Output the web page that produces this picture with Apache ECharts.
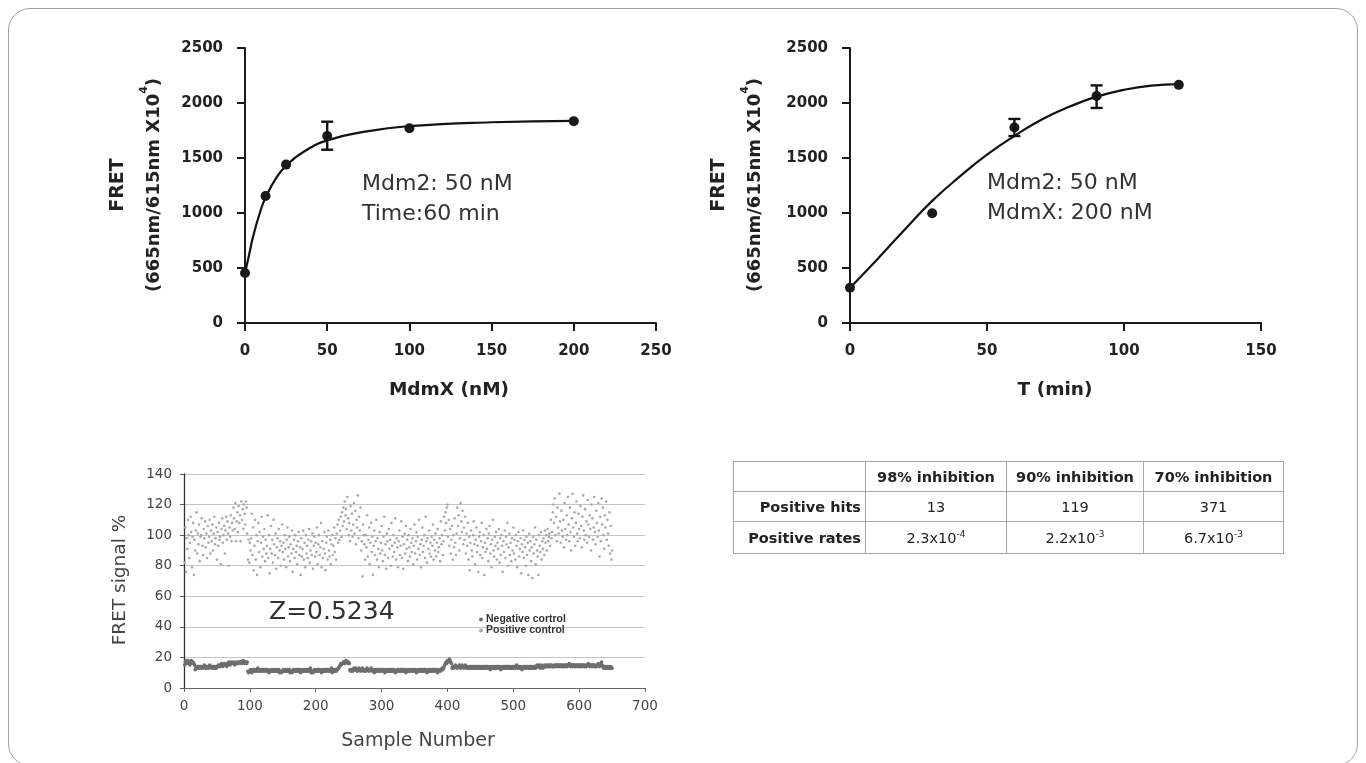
<!DOCTYPE html>
<html><head><meta charset="utf-8">
<script src="https://cdn.jsdelivr.net/npm/echarts@6/dist/echarts.min.js"></script>
<style>
html,body{margin:0;padding:0;background:#fff;}
#wrap{position:relative;width:1366px;height:763px;overflow:hidden;background:#fff;}
#chart{position:absolute;left:0;top:0;width:1366px;height:763px;}
#frame{position:absolute;left:8px;top:8px;width:1350px;height:758px;border:1.5px solid #a0a0a0;border-radius:22px;box-sizing:border-box;pointer-events:none;}
#tbl{position:absolute;left:733px;top:461px;border-collapse:collapse;font-family:'DejaVu Sans',Verdana,sans-serif;font-size:14.5px;color:#222;}
#tbl td{border:1px solid #a8a8a8;padding:0 4px;height:29px;white-space:nowrap;}
#tbl td.h{font-weight:bold;text-align:center;}
#tbl td.r{font-weight:bold;text-align:right;}
#tbl td.v{text-align:center;}
#tbl sup{font-size:9px;vertical-align:6px;}
</style></head>
<body>
<div id="wrap">
<div id="chart"></div>
<table id="tbl"></table>
<div id="frame"></div>
</div>
<script>
// ---- Panel A: MdmX titration ----
const mdmxConc = [0, 12.5, 25, 50, 100, 200];
const mdmxFret = [455, 1155, 1440, 1700, 1770, 1835];
const mdmxErrX = [50];
const mdmxErrLow = [1575];
const mdmxErrHigh = [1830];
const mdmxFitX = [0, 1, 2.5, 5, 9, 12.5, 19, 25, 35, 50, 75, 100, 150, 200];
const mdmxFitY = [455, 520, 620, 790, 1000, 1140, 1320, 1430, 1550, 1660, 1745, 1790, 1825, 1838];

// ---- Panel B: time course ----
const timeMin = [0, 30, 60, 90, 120];
const timeFret = [320, 997, 1777, 2064, 2165];
const timeErrX = [60, 90];
const timeErrLow = [1700, 1955];
const timeErrHigh = [1855, 2160];
const timeFitX = [0, 10, 20, 30, 40, 50, 60, 70, 80, 90, 100, 110, 120];
const timeFitY = [320, 580, 850, 1110, 1330, 1530, 1700, 1850, 1965, 2058, 2120, 2158, 2172];

// ---- Panel C: screening controls (sample 1..650) ----
const negativeControl = [
15,17,18,16,17,18,17,16,15,17,18,17,16,17,16,15,
12,13,14,13,14,14,13,14,14,13,14,14,13,14,15,14,
13,13,14,14,13,14,15,14,14,13,14,14,13,14,13,14,
13,14,14,15,14,15,14,15,16,15,14,15,16,15,16,15,
14,15,16,17,16,15,16,17,16,16,17,16,15,16,17,16,
16,16,17,17,16,17,17,16,17,18,17,16,17,17,16,17,
11,10,11,11,12,11,10,11,12,12,11,12,11,12,12,13,
11,11,12,11,12,12,11,12,12,11,12,12,11,12,12,11,
10,11,11,12,11,11,12,11,12,11,11,12,11,11,12,12,
10,11,11,10,11,11,12,11,11,12,11,11,12,12,11,12,
10,11,11,10,11,12,11,11,12,11,12,11,12,12,11,12,
10,11,11,12,11,11,12,11,12,12,11,12,11,12,12,13,
10,11,11,10,11,12,11,11,12,11,12,12,11,12,12,11,
10,11,12,11,11,12,11,12,11,12,12,11,12,11,12,13,
10,11,11,12,11,12,11,12,12,13,13,14,15,16,15,16,
16,17,17,16,17,18,17,17,16,17,16,12,11,12,12,11,
12,13,12,12,13,12,11,12,12,13,12,11,12,12,13,12,
11,12,12,11,12,13,12,12,11,12,12,13,12,11,12,12,
10,11,12,11,12,11,12,12,11,12,11,12,12,11,12,12,
10,11,11,12,11,11,12,11,12,11,11,12,11,12,12,11,
10,11,11,12,11,12,11,11,12,11,12,12,11,12,11,12,
10,11,11,12,11,11,12,11,12,12,11,12,11,12,12,11,
10,11,12,11,11,12,11,12,12,11,12,11,12,12,11,12,
10,11,11,12,11,12,11,11,12,12,11,12,12,11,12,12,
10,11,11,12,11,12,12,13,12,13,14,15,16,17,16,18,
17,18,19,18,17,16,13,14,14,13,14,15,14,14,13,14,
14,15,14,13,14,15,14,14,13,14,15,14,13,14,14,13,
13,14,14,13,14,13,14,14,13,14,13,14,14,13,14,14,
13,13,14,13,14,13,14,14,13,14,13,14,14,13,14,13,
12,13,14,13,14,13,13,14,13,14,13,14,14,13,14,14,
12,13,13,14,13,14,13,14,14,13,14,13,14,14,13,14,
13,13,14,13,14,14,13,14,15,14,13,14,14,13,14,13,
12,13,14,13,14,13,14,13,14,14,13,14,13,14,14,13,
13,14,13,14,14,13,14,15,14,14,15,14,13,14,15,14,
13,14,14,15,14,14,15,14,15,14,14,15,14,15,14,14,
14,15,14,15,15,14,15,15,14,15,14,15,15,14,15,14,
14,15,15,14,15,14,15,15,16,15,14,15,15,14,15,15,
14,15,14,15,15,14,15,14,15,15,14,15,14,15,15,14,
14,15,14,15,15,16,15,14,15,15,14,15,14,15,15,14,
14,15,14,15,16,15,14,15,16,17,15,14,13,14,14,13,
14,13,14,13,14,13,13,14,13,13
];
const positiveControl = [
82,105,76,98,91,110,100,85,95,112,102,79,99,108,74,97,90,103,115,88,101,94,107,83,99,
100,111,93,87,104,98,109,92,101,85,106,95,99,110,88,103,96,107,90,101,112,94,98,105,84,
102,93,108,97,99,81,104,111,95,100,106,88,103,112,97,109,101,80,105,99,113,96,108,103,118,
111,104,121,96,109,115,102,119,108,113,96,122,110,117,104,120,114,107,122,118,101,84,97,82,95,
90,98,114,87,105,77,93,110,84,100,74,96,108,89,102,79,95,112,86,99,91,104,83,97,88,
93,113,85,100,75,91,106,88,97,82,110,94,87,101,78,92,98,85,104,90,96,80,93,107,89,
95,84,100,91,79,97,105,86,92,99,83,94,88,103,76,91,97,85,100,89,93,81,96,102,87,
92,74,98,86,91,103,84,95,79,100,88,93,85,97,104,82,90,96,87,101,78,93,99,86,95,
89,105,81,94,100,87,92,108,79,96,85,91,102,88,77,95,99,84,103,90,86,97,81,94,100,
87,93,105,89,98,84,101,107,95,110,97,103,112,99,115,106,118,109,122,113,117,104,125,111,100,
108,96,119,103,114,99,107,121,101,116,94,110,105,126,98,112,103,118,90,96,73,107,100,94,84,
100,92,113,86,97,105,81,95,108,89,99,74,93,103,87,96,110,84,98,91,79,102,88,95,106,
90,83,99,112,87,94,78,101,96,85,104,91,97,80,108,93,86,100,89,95,111,84,98,92,79,
96,103,87,93,109,85,99,78,94,101,88,106,91,97,83,100,92,86,104,95,89,98,81,93,107,
88,96,102,84,99,91,110,87,94,79,97,105,89,93,100,85,112,96,82,98,91,103,88,95,86,
99,93,107,84,97,90,101,86,95,104,89,92,98,83,109,94,100,87,96,112,103,115,108,118,120,
99,110,93,104,88,97,106,84,100,92,111,95,87,101,118,106,113,90,98,121,109,102,116,94,105,
97,112,88,101,93,108,84,99,77,95,103,90,86,100,109,94,81,97,105,89,93,76,99,102,87,
96,108,85,92,100,74,95,89,104,91,98,83,101,106,88,94,79,97,110,90,86,99,93,102,84,
95,91,104,82,98,87,100,93,76,96,89,103,85,99,94,108,80,92,101,87,95,83,98,90,105,
88,97,84,100,93,79,96,102,86,91,98,75,94,89,103,85,97,92,80,99,87,95,74,101,90,
96,83,92,72,99,88,94,105,81,97,90,86,74,100,93,89,102,84,96,91,98,87,103,95,100,
90,104,96,99,101,93,110,98,102,115,120,108,124,100,112,96,118,105,101,127,109,95,116,103,99,
110,92,121,104,97,113,100,125,107,96,118,102,90,111,127,105,99,115,93,108,122,101,96,114,104,
98,119,106,92,112,126,103,97,117,100,109,95,123,107,99,113,104,90,120,111,97,105,125,102,94,
116,108,99,121,103,86,112,96,124,107,118,100,91,113,105,122,97,110,101,93,115,88,106,84,90
];

// ---- Table ----
const tableHeaders = ['98% inhibition', '90% inhibition', '70% inhibition'];
const tableRowLabels = ['Positive hits', 'Positive rates'];
const positiveHits = ['13', '119', '371'];
const rateMantissa = ['2.3', '2.2', '6.7'];
const rateExponent = ['-4', '-3', '-3'];

(function(){
  const t = document.getElementById('tbl');
  const widths = [132, 141, 137, 140];
  let html = '<tr><td style="width:' + (widths[0]-9) + 'px"></td>';
  tableHeaders.forEach((h,i)=>{ html += '<td class="h" style="width:' + (widths[i+1]-9) + 'px">' + h + '</td>'; });
  html += '</tr><tr><td class="r">' + tableRowLabels[0] + '</td>';
  positiveHits.forEach(v=>{ html += '<td class="v">' + v + '</td>'; });
  html += '</tr><tr><td class="r" style="height:31px">' + tableRowLabels[1] + '</td>';
  rateMantissa.forEach((m,i)=>{ html += '<td class="v">' + m + 'x10<sup>' + rateExponent[i] + '</sup></td>'; });
  html += '</tr>';
  t.innerHTML = html;
})();

const zip = (a,b) => a.map((v,i)=>[v,b[i]]);
const zip3 = (a,b,c) => a.map((v,i)=>[v,b[i],c[i]]);

function errRender(params, api){
  const x = api.value(0), lo = api.value(1), hi = api.value(2);
  const a = api.coord([x, lo]), b = api.coord([x, hi]);
  const w = 6;
  const st = {stroke:'#111', lineWidth:2.4};
  return {type:'group', children:[
    {type:'line', shape:{x1:a[0], y1:a[1], x2:b[0], y2:b[1]}, style:st},
    {type:'line', shape:{x1:a[0]-w, y1:a[1], x2:a[0]+w, y2:a[1]}, style:st},
    {type:'line', shape:{x1:b[0]-w, y1:b[1], x2:b[0]+w, y2:b[1]}, style:st}
  ]};
}

const FONT = "'DejaVu Sans', Verdana, sans-serif";
const plain = v => String(v);
const topAxisLine = {show:true, lineStyle:{color:'#1a1a1a', width:2}};
const topTick = {show:true, length:8, lineStyle:{color:'#1a1a1a', width:2}};
const topLabel = {color:'#222', fontFamily:FONT, fontWeight:'bold', fontSize:15, formatter:plain};
const botLabel = {color:'#444', fontFamily:FONT, fontSize:13.5, formatter:plain};

const chart = echarts.init(document.getElementById('chart'), null, {renderer:'canvas'});

const supName = {
  b:{fill:'#222', fontFamily:FONT, fontWeight:'bold', fontSize:18, lineHeight:24, verticalAlign:'bottom'},
  s:{fill:'#222', fontFamily:FONT, fontWeight:'bold', fontSize:11, lineHeight:24, verticalAlign:'top'}
};

const option = {
  animation:false,
  backgroundColor:'#fff',
  grid:[
    {left:245, top:48, width:411, height:275},
    {left:850, top:48, width:411, height:275},
    {left:184, top:474, width:461, height:214}
  ],
  xAxis:[
    {gridIndex:0, type:'value', min:0, max:250, interval:50, axisLine:topAxisLine, axisTick:topTick,
     axisLabel:Object.assign({margin:21}, topLabel), splitLine:{show:false}},
    {gridIndex:1, type:'value', min:0, max:150, interval:50, axisLine:topAxisLine, axisTick:topTick,
     axisLabel:Object.assign({margin:21}, topLabel), splitLine:{show:false}},
    {gridIndex:2, type:'value', min:0, max:700, interval:100,
     axisLine:{show:true, lineStyle:{color:'#666', width:1.2}},
     axisTick:{show:true, length:4, lineStyle:{color:'#666'}},
     axisLabel:Object.assign({margin:11}, botLabel),
     splitLine:{show:false}}
  ],
  yAxis:[
    {gridIndex:0, type:'value', min:0, max:2500, interval:500, axisLine:topAxisLine, axisTick:topTick,
     axisLabel:Object.assign({margin:22}, topLabel), splitLine:{show:false}},
    {gridIndex:1, type:'value', min:0, max:2500, interval:500, axisLine:topAxisLine, axisTick:topTick,
     axisLabel:Object.assign({margin:22}, topLabel), splitLine:{show:false}},
    {gridIndex:2, type:'value', min:0, max:140, interval:20,
     axisLine:{show:true, lineStyle:{color:'#333', width:1.3}},
     axisTick:{show:true, length:4, lineStyle:{color:'#555'}},
     axisLabel:Object.assign({margin:12}, botLabel),
     splitLine:{show:true, lineStyle:{color:'#c4c4c4', width:1}}}
  ],
  legend:{
    left:474, top:609, orient:'vertical', itemGap:0, itemWidth:4, itemHeight:4,
    textStyle:{color:'#333', fontFamily:'Liberation Sans, Arial, sans-serif', fontWeight:'bold', fontSize:10.5, lineHeight:9, padding:[0,0,0,-2]},
    data:[{name:'Negative cortrol', icon:'circle'}, {name:'Positive control', icon:'circle'}]
  },
  series:[
    {type:'line', xAxisIndex:0, yAxisIndex:0, data:zip(mdmxFitX, mdmxFitY), smooth:0.5, showSymbol:false, symbol:'none',
     lineStyle:{color:'#111', width:2.2}, z:2},
    {type:'scatter', xAxisIndex:0, yAxisIndex:0, data:zip(mdmxConc, mdmxFret), symbolSize:10,
     itemStyle:{color:'#1a1a1a', opacity:1}, z:3},
    {type:'custom', xAxisIndex:0, yAxisIndex:0, data:zip3(mdmxErrX, mdmxErrLow, mdmxErrHigh),
     renderItem:errRender, encode:{x:0, y:[1,2]}, z:4},
    {type:'line', xAxisIndex:1, yAxisIndex:1, data:zip(timeFitX, timeFitY), smooth:0.5, showSymbol:false, symbol:'none',
     lineStyle:{color:'#111', width:2.2}, z:2},
    {type:'scatter', xAxisIndex:1, yAxisIndex:1, data:zip(timeMin, timeFret), symbolSize:10,
     itemStyle:{color:'#1a1a1a', opacity:1}, z:3},
    {type:'custom', xAxisIndex:1, yAxisIndex:1, data:zip3(timeErrX, timeErrLow, timeErrHigh),
     renderItem:errRender, encode:{x:0, y:[1,2]}, z:4},
    {name:'Positive control', type:'scatter', xAxisIndex:2, yAxisIndex:2,
     data:positiveControl.map((v,i)=>[i+1, v]), symbolSize:2.6, itemStyle:{color:'#a9a9a9', opacity:1}, z:2},
    {name:'Negative cortrol', type:'scatter', xAxisIndex:2, yAxisIndex:2,
     data:negativeControl.map((v,i)=>[i+1, v]), symbolSize:3.6, itemStyle:{color:'#6e6e6e', opacity:1}, z:3}
  ],
  graphic:[
    {type:'text', x:118, y:185, rotation:Math.PI/2, style:{text:'FRET', fill:'#222', fontFamily:FONT, fontWeight:'bold', fontSize:19, align:'center', verticalAlign:'middle'}},
    {type:'text', x:151, y:185, rotation:Math.PI/2, style:{text:'{b|(665nm/615nm X10}{s|4}{b|)}', align:'center', verticalAlign:'middle', rich:supName}},
    {type:'text', x:719, y:185, rotation:Math.PI/2, style:{text:'FRET', fill:'#222', fontFamily:FONT, fontWeight:'bold', fontSize:19, align:'center', verticalAlign:'middle'}},
    {type:'text', x:752, y:185, rotation:Math.PI/2, style:{text:'{b|(665nm/615nm X10}{s|4}{b|)}', align:'center', verticalAlign:'middle', rich:supName}},
    {type:'text', x:449, y:390, style:{text:'MdmX (nM)', fill:'#222', fontFamily:FONT, fontWeight:'bold', fontSize:18.5, align:'center', verticalAlign:'middle'}},
    {type:'text', x:1055, y:390, style:{text:'T (min)', fill:'#222', fontFamily:FONT, fontWeight:'bold', fontSize:18.5, align:'center', verticalAlign:'middle'}},
    {type:'text', x:362, y:184, style:{text:'Mdm2: 50 nM', fill:'#333', fontFamily:FONT, fontSize:22, align:'left', verticalAlign:'middle'}},
    {type:'text', x:362, y:214, style:{text:'Time:60 min', fill:'#333', fontFamily:FONT, fontSize:22, align:'left', verticalAlign:'middle'}},
    {type:'text', x:987, y:183, style:{text:'Mdm2: 50 nM', fill:'#333', fontFamily:FONT, fontSize:22, align:'left', verticalAlign:'middle'}},
    {type:'text', x:987, y:213, style:{text:'MdmX: 200 nM', fill:'#333', fontFamily:FONT, fontSize:22, align:'left', verticalAlign:'middle'}},
    {type:'text', x:120, y:580, rotation:Math.PI/2, style:{text:'FRET signal %', fill:'#444', fontFamily:FONT, fontSize:18.5, align:'center', verticalAlign:'middle'}},
    {type:'text', x:418, y:741, style:{text:'Sample Number', fill:'#444', fontFamily:FONT, fontSize:19, align:'center', verticalAlign:'middle'}},
    {type:'text', x:269, y:612, style:{text:'Z=0.5234', fill:'#333', fontFamily:FONT, fontSize:25, align:'left', verticalAlign:'middle'}}
  ]
};
chart.setOption(option);
</script>
</body></html>
